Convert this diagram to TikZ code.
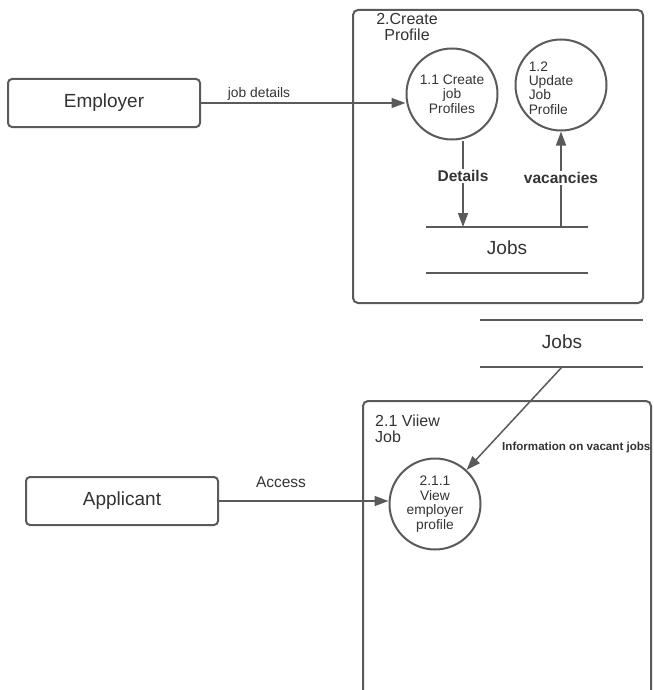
\documentclass[tikz,border=0pt]{standalone}
\usepackage{fontspec}
\setmainfont{Liberation Sans}
\usetikzlibrary{arrows.meta,calc}
\definecolor{ln}{HTML}{5A5A5A}
\definecolor{tx}{HTML}{333333}
\begin{document}
\begin{tikzpicture}[x=1pt,y=-1pt,
  every node/.style={text=tx},
  frame/.style={draw=ln,line width=2pt,rounded corners=5pt},
  entity/.style={draw=ln,line width=2pt,rounded corners=4pt,minimum width=192pt,minimum height=48pt,font=\fontsize{19}{22}\selectfont},
  proc/.style={draw=ln,line width=2pt,circle,minimum size=91pt,inner sep=0pt},
  ptext/.style={font=\fontsize{13.8}{14.5}\selectfont},
  storeline/.style={draw=ln,line width=2pt},
  storetext/.style={font=\fontsize{19}{22}\selectfont},
  flow/.style={draw=ln,line width=1.5pt,-{Triangle[length=14pt,width=10pt]}},
  flowlbl/.style={font=\fontsize{13.8}{16}\selectfont},
  boldlbl/.style={font=\bfseries\fontsize{15.5}{18}\selectfont,fill=white,inner sep=1.5pt}
]
\useasboundingbox (0,0) rectangle (653,690);

% process frames
\draw[frame] (353,10) rectangle (643,303);
\node[align=center,font=\fontsize{16}{16}\selectfont] (t2) at (407,27) {2.Create\\Profile};
\draw[frame] (363,401) rectangle (651,720);
\node[align=left,anchor=north west,inner sep=0pt,font=\fontsize{16}{16}\selectfont] (t21) at (375,415) {2.1 Viiew\\Job};

% external entities
\node[entity] (emp) at (104,103) {Employer};
\node[entity] (app) at (122,501) {Applicant};

% processes
\node[proc,align=center,ptext] (c11) at (452,94) {1.1 Create\\job\\Profiles};
\node[proc] (c12) at (561,85) {};
\node[align=left,ptext,inner sep=0pt] (t12) at (551,88) {1.2\\Update\\Job\\Profile};
\node[proc,align=center,ptext] (c211) at (435,504) {2.1.1\\View\\employer\\profile};

% data store inside frame 2
\coordinate (s1a) at (426,227);
\coordinate (s1b) at (588,227);
\coordinate (s1c) at (426,273);
\coordinate (s1d) at (588,273);
\draw[storeline] (s1a) -- (s1b);
\draw[storeline] (s1c) -- (s1d);
\node[storetext] (j1) at (507,248) {Jobs};

% shared data store
\coordinate (s2a) at (480,320);
\coordinate (s2b) at (643,320);
\coordinate (s2c) at (480,367);
\coordinate (s2d) at (643,367);
\draw[storeline] (s2a) -- (s2b);
\draw[storeline] (s2c) -- (s2d);
\node[storetext] (j2) at (562,342) {Jobs};

% data flows
\coordinate (d1) at (463,227);
\coordinate (d2) at (561,227);
\coordinate (i1) at (562,367);
\draw[flow] (emp.east) -- (emp.east -| c11.west);
\node[flowlbl] (l1) at (259,94) {job details};
\draw[flow] (d1 |- c11.south) -- (d1);
\node[boldlbl] (l2) at (463,176) {Details};
\draw[flow] (d2) -- (c12.south);
\node[boldlbl] (l3) at (561,178) {vacancies};
\draw[flow] (app.east) -- (app.east -| c211.west);
\node[flowlbl,font=\fontsize{15.5}{18}\selectfont] (l4) at (281,482) {Access};
\draw[flow] (i1) -- (c211);
\node[anchor=west,inner sep=0pt,font=\bfseries\fontsize{11.6}{14}\selectfont] (l5) at (502,447) {Information on vacant jobs};
\end{tikzpicture}
\end{document}
